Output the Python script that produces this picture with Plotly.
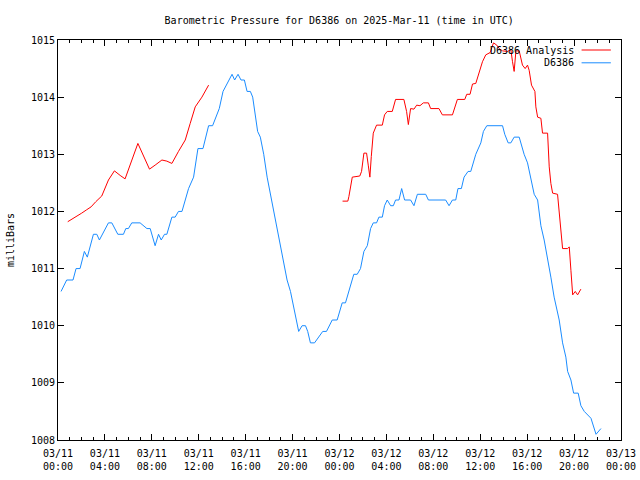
import datetime as dt
import plotly.graph_objects as go

BASE = dt.datetime(2025, 3, 11, 0, 0)

# D6386 observations: hours after 03/11 00:00 UTC, pressure (mb)
obs_hours = [0.26, 0.74, 1.28, 1.54, 1.88, 2.25, 2.50, 3.02, 3.31, 3.53, 4.30, 4.59, 5.10, 5.58, 5.78,
             6.00, 6.29, 7.00, 7.58, 7.86, 8.28, 8.57, 8.80, 9.08, 9.28, 9.71, 9.99, 10.27, 10.57,
             11.13, 11.56, 11.93, 12.36, 12.84, 13.18, 13.75, 14.07, 14.84, 15.06, 15.35, 15.60,
             15.89, 16.12, 16.40, 16.60, 16.83, 17.02, 17.25, 17.54, 17.83, 18.11, 18.39, 18.68,
             18.96, 19.24, 19.53, 19.82, 20.10, 20.39, 20.52, 20.81, 21.10, 21.29, 21.52, 21.87,
             22.23, 22.57, 22.89, 23.38, 23.80, 24.23, 24.51, 24.80, 25.22, 25.51, 25.79, 26.08,
             26.37, 26.65, 26.88, 27.16, 27.36, 27.65, 27.84, 28.07, 28.36, 28.59, 28.78, 29.07,
             29.30, 29.55, 30.06, 30.35, 30.64, 31.35, 31.58, 33.05, 33.34, 33.63, 33.91, 34.10,
             34.39, 34.62, 34.96, 35.19, 35.47, 35.62, 36.05, 36.27, 36.56, 37.90, 38.09, 38.38,
             38.61, 38.89, 39.32, 39.74, 40.03, 40.31, 40.60, 40.89, 41.17, 41.45, 41.74, 42.02,
             42.30, 42.45, 42.73, 43.02, 43.16, 43.30, 43.45, 43.73, 43.96, 44.35, 44.58, 44.87,
             45.44, 45.67, 45.87, 46.29]
obs_values = [1010.6, 1010.8, 1010.8, 1011.0, 1011.0, 1011.3, 1011.2, 1011.6, 1011.6, 1011.5, 1011.8,
              1011.8, 1011.6, 1011.6, 1011.7, 1011.7, 1011.8, 1011.8, 1011.7, 1011.7, 1011.4, 1011.6,
              1011.5, 1011.6, 1011.6, 1011.9, 1011.9, 1012.0, 1012.0, 1012.4, 1012.6, 1013.1, 1013.1,
              1013.5, 1013.5, 1013.8, 1014.1, 1014.4, 1014.3, 1014.4, 1014.3, 1014.3, 1014.1, 1014.1,
              1014.0, 1013.7, 1013.4, 1013.3, 1013.0, 1012.6, 1012.3, 1012.0, 1011.7, 1011.4, 1011.1,
              1010.8, 1010.6, 1010.3, 1010.0, 1009.9, 1010.0, 1010.0, 1009.9, 1009.7, 1009.7, 1009.8,
              1009.9, 1009.9, 1010.1, 1010.1, 1010.4, 1010.4, 1010.6, 1010.9, 1010.9, 1011.0, 1011.3,
              1011.4, 1011.7, 1011.8, 1011.8, 1011.9, 1011.9, 1012.1, 1012.2, 1012.1, 1012.1, 1012.2,
              1012.2, 1012.4, 1012.2, 1012.2, 1012.1, 1012.3, 1012.3, 1012.2, 1012.2, 1012.1, 1012.2,
              1012.2, 1012.4, 1012.4, 1012.6, 1012.7, 1012.7, 1012.9, 1013.0, 1013.2, 1013.4, 1013.5,
              1013.5, 1013.35, 1013.2, 1013.2, 1013.3, 1013.3, 1013.0, 1012.85, 1012.6, 1012.3,
              1012.2, 1011.75, 1011.5, 1011.2, 1010.85, 1010.5, 1010.35, 1010.1, 1009.7, 1009.57,
              1009.45, 1009.2, 1009.05, 1008.82, 1008.82, 1008.6, 1008.5, 1008.38, 1008.25, 1008.1,
              1008.2]

# D6386 Analysis (None = gap)
ana_hours = [0.83, 1.31, 1.73, 2.02, 2.45, 2.82, 3.22, 3.73, 4.30, 4.81, 5.30, 5.72, 6.81, 7.80, 8.28,
             8.86, 9.28, 9.71, 10.27, 10.85, 11.27, 11.70, 12.27, 12.84, 18.5,
             24.26, 24.71, 24.80, 24.94, 25.09, 25.73, 25.88, 26.08, 26.31, 26.45, 26.59, 26.71,
             26.88, 27.16, 27.65, 27.84, 28.07, 28.50, 28.78, 29.49, 29.72, 29.87, 30.06, 30.35,
             30.58, 30.86, 31.15, 31.58, 31.77, 32.48, 32.77, 33.63, 33.91, 34.05, 34.68, 34.85,
             35.13, 35.34, 35.62, 35.90, 36.19, 36.47, 36.84, 37.13, 37.41, 37.61, 37.90, 38.32,
             38.61, 38.75, 38.89, 39.04, 39.32, 39.60, 39.83, 40.03, 40.17, 40.37, 40.66, 40.74,
             40.89, 41.17, 41.31, 41.74, 41.88, 42.02, 42.17, 42.59, 42.73, 42.88, 43.02, 43.45,
             43.59, 43.73, 43.88, 44.10, 44.30, 44.58]
ana_values = [1011.82, 1011.88, 1011.92, 1011.97, 1012.03, 1012.08, 1012.17, 1012.27, 1012.55, 1012.71,
              1012.63, 1012.57, 1013.19, 1012.74, 1012.81, 1012.90, 1012.88, 1012.84, 1013.05, 1013.25,
              1013.54, 1013.83, 1014.00, 1014.21, None,
              1012.18, 1012.18, 1012.26, 1012.40, 1012.60, 1012.62, 1012.70, 1013.02, 1013.02,
              1012.81, 1012.60, 1012.96, 1013.37, 1013.51, 1013.51, 1013.69, 1013.75, 1013.75,
              1013.96, 1013.96, 1013.75, 1013.52, 1013.80, 1013.79, 1013.86, 1013.85, 1013.90,
              1013.90, 1013.80, 1013.80, 1013.69, 1013.69, 1013.86, 1013.96, 1013.96, 1014.05,
              1014.05, 1014.23, 1014.24, 1014.42, 1014.62, 1014.74, 1014.78, 1014.95, 1014.91,
              1014.85, 1014.81, 1014.80, 1014.83, 1014.62, 1014.45, 1014.81, 1014.81, 1014.56,
              1014.50, 1014.56, 1014.47, 1014.21, 1014.10, 1013.83, 1013.65, 1013.63, 1013.37,
              1013.37, 1012.78, 1012.49, 1012.32, 1012.30, 1012.00, 1011.62, 1011.35, 1011.35,
              1011.38, 1010.97, 1010.54, 1010.60, 1010.54, 1010.64]

tick_hours = [0, 4, 8, 12, 16, 20, 24, 28, 32, 36, 40, 44, 48]
tick_labels = ["03/11<br>00:00", "03/11<br>04:00", "03/11<br>08:00", "03/11<br>12:00",
               "03/11<br>16:00", "03/11<br>20:00", "03/12<br>00:00", "03/12<br>04:00",
               "03/12<br>08:00", "03/12<br>12:00", "03/12<br>16:00", "03/12<br>20:00",
               "03/13<br>00:00"]
y_ticks = [1008, 1009, 1010, 1011, 1012, 1013, 1014, 1015]

RED = "#ff0000"
BLUE = "#1a8cff"
FONT = "DejaVu Sans Mono"


def to_time(hours):
    return [BASE + dt.timedelta(hours=h) for h in hours]


fig = go.Figure()
fig.add_trace(go.Scatter(x=to_time(ana_hours), y=ana_values, mode="lines", name="D6386 Analysis",
                         line=dict(color=RED, width=1), connectgaps=False, showlegend=False))
fig.add_trace(go.Scatter(x=to_time(obs_hours), y=obs_values, mode="lines", name="D6386",
                         line=dict(color=BLUE, width=1), showlegend=False))

# gnuplot-style legend: right-aligned text with sample line on the right
legend_items = [("D6386 Analysis", RED, 0.975), ("D6386", BLUE, 0.943)]
for name, color, ypos in legend_items:
    fig.add_annotation(x=0.92, y=ypos, xref="paper", yref="paper", text=name, showarrow=False,
                       xanchor="right", yanchor="middle", font=dict(family=FONT, size=10, color="black"))
    fig.add_shape(type="line", xref="paper", yref="paper", x0=0.93, x1=0.982, y0=ypos, y1=ypos,
                  line=dict(color=color, width=1))

fig.update_layout(
    width=640, height=480,
    margin=dict(l=58, r=19, t=40, b=40, autoexpand=False),
    paper_bgcolor="white", plot_bgcolor="white",
    font=dict(family=FONT, size=10, color="black"),
    title=dict(text="Barometric Pressure for D6386 on 2025-Mar-11 (time in UTC)",
               x=0.53, xref="container", xanchor="center", y=0.958, yanchor="middle",
               font=dict(family=FONT, size=10, color="black"), automargin=False),
    showlegend=False,
)
fig.update_xaxes(
    type="date", automargin=False,
    range=[BASE, BASE + dt.timedelta(hours=48)],
    tickmode="array", tickvals=to_time(tick_hours), ticktext=tick_labels,
    ticks="inside", ticklen=6, tickcolor="black", tickwidth=1, ticklabelstandoff=4,
    minor=dict(ticks="inside", ticklen=3, dtick=3600000, tick0=BASE, tickcolor="black"),
    showline=True, linecolor="black", linewidth=1, mirror="ticks",
    showgrid=False, zeroline=False,
    tickfont=dict(family=FONT, size=10),
)
fig.update_yaxes(
    range=[1008, 1015], tickmode="array", tickvals=y_ticks, automargin=False,
    ticks="inside", ticklen=6, tickcolor="black", tickwidth=1,
    showline=True, linecolor="black", linewidth=1, mirror="ticks",
    showgrid=False, zeroline=False,
    title=dict(text="milliBars", font=dict(family=FONT, size=10), standoff=14),
    tickfont=dict(family=FONT, size=10),
)

fig.write_html("out.html", config={"displayModeBar": False},
               post_script="document.body.style.margin='0px';document.body.style.overflow='hidden';")
